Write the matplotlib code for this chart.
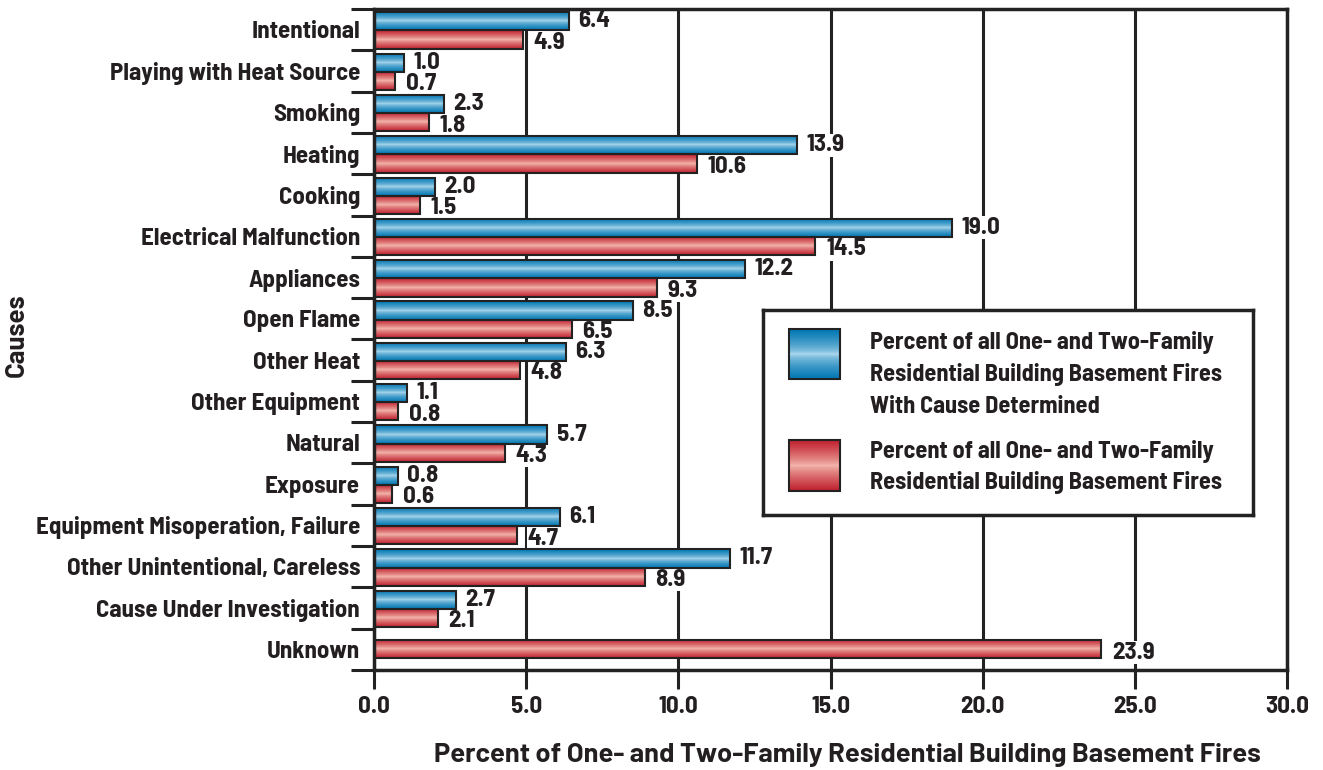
import numpy as np
import matplotlib
matplotlib.use("Agg")
import matplotlib.pyplot as plt
from matplotlib.colors import to_rgb

causes = ["Intentional", "Playing with Heat Source", "Smoking", "Heating", "Cooking",
          "Electrical Malfunction", "Appliances", "Open Flame", "Other Heat",
          "Other Equipment", "Natural", "Exposure", "Equipment Misoperation, Failure",
          "Other Unintentional, Careless", "Cause Under Investigation", "Unknown"]
pct_determined = [6.4, 1.0, 2.3, 13.9, 2.0, 19.0, 12.2, 8.5, 6.3, 1.1, 5.7, 0.8, 6.1, 11.7, 2.7, None]
pct_all = [4.9, 0.7, 1.8, 10.6, 1.5, 14.5, 9.3, 6.5, 4.8, 0.8, 4.3, 0.6, 4.7, 8.9, 2.1, 23.9]
xticks = [0, 5, 10, 15, 20, 25, 30]

legend_blue = ["Percent of all One- and Two-Family", "Residential Building Basement Fires",
               "With Cause Determined"]
legend_red = ["Percent of all One- and Two-Family", "Residential Building Basement Fires"]
xlabel = "Percent of One- and Two-Family Residential Building Basement Fires"

TXT = "#231f20"
COND = ["Barlow Semi Condensed", "DejaVu Sans"]
WIDE = ["Barlow", "DejaVu Sans"]
plt.rcParams['font.family'] = COND
plt.rcParams['font.weight'] = 'bold'

# (edge colour, centre colour, curve exponent)
BLUE = ("#0077b3", "#b5ddf0", 0.6)
RED = ("#c0202e", "#f4b8ae", 0.8)
LABEL_BOX = dict(facecolor='white', edgecolor='none', pad=0.3)


def gradient(dark, light, p, n=64):
    t = np.abs(np.linspace(-1, 1, n)) ** p
    d = np.array(to_rgb(dark))
    l = np.array(to_rgb(light))
    g = l[None, :] * (1 - t[:, None]) + d[None, :] * t[:, None]
    return g[:, None, :]


def fill_gradient(ax, rect, cols):
    x0, y0 = rect.get_x(), rect.get_y()
    w, h = rect.get_width(), rect.get_height()
    im = ax.imshow(gradient(*cols), extent=[x0, x0 + w, y0 + h, y0],
                   aspect='auto', zorder=2, interpolation='bilinear')
    im.set_clip_path(rect)


def fit_size(text, family, target_px, weight='bold'):
    # font size that makes `text` about target_px wide
    t = fig.text(0, 0, text, fontsize=20, family=family, weight=weight)
    w = t.get_window_extent(fig.canvas.get_renderer()).width
    t.remove()
    return 20 * target_px / w


fig = plt.figure(figsize=(13.23, 7.70), dpi=100)
ax = fig.add_axes([0.2827, 0.1299, 0.6901, 0.8584])

fs = fit_size("Playing with Heat Source", COND, 250)
fs_leg = fit_size(legend_blue[0], COND, 344)
fs_x = fit_size(xlabel, WIDE, 830)
fs_y = fit_size("Causes", WIDE, 84)

y = np.arange(len(causes))
h = 0.44
for i, (b, r) in enumerate(zip(pct_determined, pct_all)):
    if b is None:
        ry = i
    else:
        ry = i + 0.24
        bar = ax.barh(i - 0.2, b, height=h, facecolor='none', edgecolor='#222222',
                      linewidth=1.5, zorder=3)[0]
        fill_gradient(ax, bar, BLUE)
        ax.text(b + 0.3, i - 0.2, f"{b:.1f}", va='center', ha='left', fontsize=fs,
                color=TXT, zorder=1.5, bbox=LABEL_BOX)
    bar = ax.barh(ry, r, height=h, facecolor='none', edgecolor='#222222',
                  linewidth=1.5, zorder=3)[0]
    fill_gradient(ax, bar, RED)
    ax.text(r + 0.35, ry + 0.08, f"{r:.1f}", va='center', ha='left', fontsize=fs,
            color=TXT, zorder=1.5, bbox=LABEL_BOX)

ax.set_xlim(0, 30)
ax.set_ylim(len(causes) - 0.5, -0.5)
ax.set_xticks(xticks)
ax.set_xticklabels([f"{v:.1f}" for v in xticks], fontsize=fs, color=TXT)
ax.tick_params(axis='x', length=14, width=2.2, pad=5, color='#222222')
ax.set_yticks(y)
ax.set_yticklabels(causes, fontsize=fs, color=TXT)
ax.tick_params(axis='y', which='major', length=0, pad=10)
ax.set_yticks(np.arange(len(causes) + 1) - 0.5, minor=True)
ax.tick_params(axis='y', which='minor', length=16.5, width=2.2, color='#222222')
ax.grid(axis='x', color='#222222', linewidth=2.2, zorder=1)
ax.set_axisbelow(True)
for s in ax.spines.values():
    s.set_linewidth(2.5)
    s.set_color('#222222')

fig.text(847 / 1323, 1 - 755 / 770, xlabel, ha='center', va='center', fontsize=fs_x,
         color=TXT, family=WIDE, weight='bold')
fig.text(17 / 1323, 1 - 335 / 770, "Causes", rotation=90, ha='center', va='center',
         fontsize=fs_y, color=TXT, family=WIDE, weight='bold')

# legend box (pixel-like coordinates inside the box)
lg = fig.add_axes([0.5767, 0.3312, 0.3704, 0.2662])
lg.set_xticks([])
lg.set_yticks([])
for s in lg.spines.values():
    s.set_linewidth(2.5)
    s.set_color('#222222')
lg.imshow(gradient(*BLUE), extent=[26, 77, 69, 19], aspect='auto', zorder=2)
lg.add_patch(plt.Rectangle((26, 19), 51, 50, fill=False, edgecolor='#222222', lw=1.5, zorder=3))
lg.imshow(gradient(*RED), extent=[26, 77, 181, 130], aspect='auto', zorder=2)
lg.add_patch(plt.Rectangle((26, 130), 51, 51, fill=False, edgecolor='#222222', lw=1.5, zorder=3))
lg.set_xlim(0, 490)
lg.set_ylim(205, 0)
for k, line in enumerate(legend_blue):
    lg.text(107, 33 + 32 * k, line, ha='left', va='center', fontsize=fs_leg, color=TXT)
for k, line in enumerate(legend_red):
    lg.text(107, 142 + 31 * k, line, ha='left', va='center', fontsize=fs_leg, color=TXT)

fig.savefig("out.png", dpi=100)
